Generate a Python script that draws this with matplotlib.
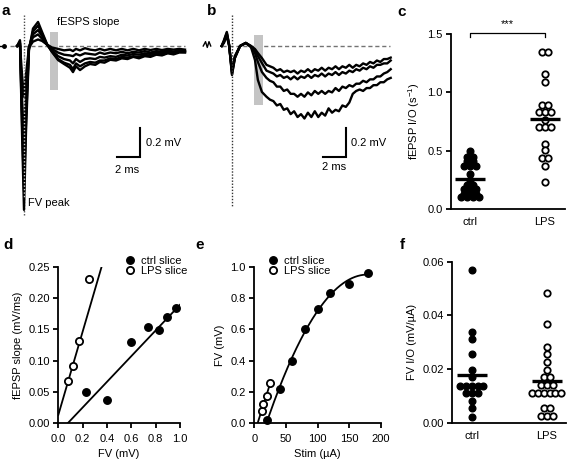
import numpy as np
import matplotlib
matplotlib.use("Agg")
import matplotlib.pyplot as plt
from matplotlib.patches import Rectangle

plt.rcParams['font.family'] = ['Liberation Sans', 'DejaVu Sans']
plt.rcParams['font.size'] = 8
plt.rcParams['mathtext.default'] = 'regular'

# ---------------- data ----------------
# panel a: example traces (ms, mV)
a_t = [-0.6, -0.35, -0.17, 0.0, 0.17, 0.43, 0.78, 1.22, 1.57, 2.0, 2.43, 2.96, 3.48, 4.0, 4.26, 4.52,
       4.87, 5.3, 5.74, 6.2, 6.6, 7.0, 7.5, 8.0, 8.5, 9.0, 9.5, 10.0, 10.5, 11.0, 11.5, 12.0, 12.5,
       13.0, 13.5, 14.0]
a_v1 = [0, 0.04, -0.60, -1.13, -0.60, -0.03, 0.12, 0.166, 0.097, 0.014, -0.04, -0.097, -0.124, -0.15,
        -0.18, -0.14, -0.166, -0.14, -0.124, -0.13, -0.11, -0.115, -0.095, -0.10, -0.085, -0.09, -0.075,
        -0.085, -0.07, -0.075, -0.06, -0.065, -0.05, -0.058, -0.045, -0.045]
a_v2 = [0, 0.03, -0.53, -1.0, -0.53, -0.02, 0.10, 0.14, 0.085, 0.01, -0.04, -0.09, -0.115, -0.13, -0.16,
        -0.12, -0.14, -0.12, -0.11, -0.115, -0.10, -0.10, -0.085, -0.09, -0.075, -0.08, -0.07, -0.075,
        -0.06, -0.068, -0.055, -0.06, -0.048, -0.052, -0.04, -0.042]
a_v3 = [0, 0.02, -0.45, -0.85, -0.45, -0.01, 0.08, 0.11, 0.07, 0.01, -0.03, -0.07, -0.09, -0.10, -0.12,
        -0.09, -0.11, -0.09, -0.085, -0.09, -0.075, -0.08, -0.07, -0.075, -0.06, -0.065, -0.055, -0.06,
        -0.05, -0.055, -0.045, -0.05, -0.04, -0.045, -0.035, -0.038]
a_v4 = [0, 0.02, -0.36, -0.65, -0.36, -0.01, 0.06, 0.08, 0.05, 0.01, -0.02, -0.045, -0.06, -0.065, -0.07,
        -0.055, -0.065, -0.05, -0.055, -0.06, -0.045, -0.055, -0.045, -0.05, -0.04, -0.05, -0.04, -0.045,
        -0.035, -0.045, -0.035, -0.04, -0.03, -0.038, -0.03, -0.035]
a_v5 = [0, 0.01, -0.20, -0.35, -0.20, -0.01, 0.03, 0.045, 0.035, 0.01, -0.01, -0.02, -0.03, -0.025, -0.035,
        -0.02, -0.03, -0.015, -0.025, -0.03, -0.02, -0.03, -0.02, -0.03, -0.02, -0.03, -0.02, -0.03, -0.02,
        -0.028, -0.02, -0.028, -0.02, -0.025, -0.02, -0.025]

# panel b: example traces (ms, mV)
b_t = [-0.9, -0.7, -0.45, -0.25, 0.0, 0.25, 0.7, 1.2, 1.65, 2.0, 2.25, 2.6,
       3.0, 3.3, 3.6, 3.9, 4.2, 4.5, 4.8, 5.1, 5.4, 5.7, 6.0, 6.3, 6.6, 6.9, 7.2, 7.5, 7.8, 8.1, 8.4,
       8.7, 9.0, 9.3, 9.6, 9.9, 10.2, 10.5, 10.8, 11.1, 11.4, 11.7, 12.0, 12.3, 12.6, 12.9, 13.2, 13.5, 13.8]
b_v1 = [0, 0.04, 0.097, 0.007, -0.2, -0.083, 0.0, 0.021, -0.007, -0.097, -0.234, -0.317,
        -0.35, -0.37, -0.38, -0.41, -0.40, -0.44, -0.43, -0.47, -0.45, -0.49, -0.47, -0.50, -0.46, -0.49,
        -0.45, -0.49, -0.46, -0.48, -0.43, -0.46, -0.44, -0.45, -0.41, -0.42, -0.39, -0.33, -0.31, -0.30,
        -0.31, -0.29, -0.29, -0.27, -0.27, -0.25, -0.25, -0.23, -0.22]
b_v2 = [0, 0.034, 0.09, 0.007, -0.193, -0.083, 0, 0.021, -0.007, -0.048, -0.11, -0.179,
        -0.22, -0.24, -0.25, -0.28, -0.28, -0.31, -0.30, -0.33, -0.33, -0.35, -0.33, -0.35, -0.32, -0.34,
        -0.31, -0.33, -0.31, -0.33, -0.31, -0.32, -0.29, -0.31, -0.28, -0.29, -0.27, -0.28, -0.26, -0.26,
        -0.24, -0.25, -0.23, -0.23, -0.21, -0.21, -0.19, -0.18, -0.16]
b_v3 = [0, 0.028, 0.083, 0.007, -0.179, -0.076, 0, 0.021, 0, -0.028, -0.069, -0.117,
        -0.17, -0.18, -0.19, -0.21, -0.20, -0.22, -0.21, -0.23, -0.21, -0.23, -0.21, -0.22, -0.20, -0.22,
        -0.20, -0.21, -0.19, -0.21, -0.19, -0.20, -0.18, -0.20, -0.18, -0.19, -0.17, -0.18, -0.16, -0.17,
        -0.15, -0.16, -0.14, -0.15, -0.13, -0.13, -0.12, -0.12, -0.10]
b_v4 = [0, 0.021, 0.069, 0, -0.166, -0.069, 0, 0.021, 0, -0.021, -0.048, -0.083,
        -0.13, -0.14, -0.15, -0.17, -0.16, -0.18, -0.17, -0.18, -0.17, -0.19, -0.17, -0.18, -0.16, -0.18,
        -0.16, -0.17, -0.15, -0.17, -0.15, -0.16, -0.14, -0.16, -0.14, -0.15, -0.13, -0.15, -0.13, -0.14,
        -0.12, -0.13, -0.11, -0.12, -0.10, -0.11, -0.09, -0.09, -0.08]

# panel c: fEPSP I/O (s^-1)
c_ctrl = [0.50, 0.45, 0.45, 0.41, 0.41, 0.37, 0.37, 0.37, 0.30, 0.25, 0.21, 0.21,
          0.17, 0.17, 0.17, 0.13, 0.13, 0.13, 0.10, 0.10, 0.10, 0.10]
c_lps = [1.35, 1.35, 1.16, 1.09, 0.89, 0.89, 0.83, 0.83, 0.83, 0.765, 0.70, 0.70, 0.70,
         0.56, 0.51, 0.44, 0.44, 0.37, 0.23]
cat_labels = ['ctrl', 'LPS']

# panel d: fEPSP slope vs FV
d_ctrl_fv = [0.227, 0.403, 0.597, 0.734, 0.827, 0.890, 0.967]
d_ctrl_slope = [0.0505, 0.0372, 0.130, 0.153, 0.149, 0.169, 0.1835]
d_lps_fv = [0.082, 0.123, 0.173, 0.255]
d_lps_slope = [0.068, 0.0915, 0.131, 0.231]
d_ctrl_fit = (0.205, -0.0158)   # slope, intercept
d_lps_fit = (0.665, 0.0133)

# panel e: FV vs stimulus
e_ctrl_stim = [20, 40, 60, 80, 100, 120, 150, 180]
e_ctrl_fv = [0.02, 0.22, 0.40, 0.60, 0.73, 0.83, 0.89, 0.96]
e_lps_stim = [11.6, 14.2, 19.5, 24.8]
e_lps_fv = [0.081, 0.121, 0.174, 0.255]

# panel f: FV I/O (mV/uA)
f_ctrl = [0.0569, 0.0339, 0.0311, 0.0255, 0.0196, 0.0169, 0.0138, 0.0138, 0.0138, 0.0138, 0.0138,
          0.0112, 0.0112, 0.0112, 0.0081, 0.0054, 0.0022]
f_lps = [0.0484, 0.0368, 0.0283, 0.0255, 0.0227, 0.0196, 0.0169, 0.0169, 0.0140, 0.0140, 0.0140,
         0.0109, 0.0109, 0.0109, 0.0109, 0.0109, 0.0109, 0.0054, 0.0054, 0.0025, 0.0025, 0.0025]

# ---------------- figure ----------------
W, H = 568, 470
fig = plt.figure(figsize=(W / 100, H / 100), dpi=100)


def px_axes(x0, y0, x1, y1):
    return fig.add_axes([x0 / W, 1 - y1 / H, (x1 - x0) / W, (y1 - y0) / H])


SP_LW = 1.3


def style_axes(ax, xticks=True):
    for s in ['top', 'right']:
        ax.spines[s].set_visible(False)
    for s in ['left', 'bottom']:
        ax.spines[s].set_linewidth(SP_LW)
    ax.tick_params(axis='y', direction='out', length=3.5, width=SP_LW, pad=2.5, labelsize=8)
    if xticks:
        ax.tick_params(axis='x', direction='out', length=3.5, width=SP_LW, pad=4, labelsize=8)
    else:
        ax.tick_params(axis='x', length=0, pad=6, labelsize=8)


trace_kw = dict(color='black', lw=1.7, solid_joinstyle='round', zorder=2)
gray_dash = dict(color='0.45', lw=1.0, ls=(0, (3, 2)), zorder=1)

# ---- panel a ----
axa = px_axes(0, 10, 190, 225)
axa.set_xlim(-2.087, 14.435)
axa.set_ylim(-1.2345, 0.2483)
axa.axis('off')
axa.add_patch(Rectangle((2.26, -0.30), 0.70, 0.397, facecolor='#c4c4c4', edgecolor='none', zorder=1.5))
axa.plot([-1.22, 14.0], [0, 0], **gray_dash)
for v in [a_v5, a_v4, a_v3, a_v2, a_v1]:
    axa.plot(a_t, v, **trace_kw)
axa.plot([0, 0], [0.214, -1.166], color='0.3', lw=1.0, ls=(0, (1, 1.2)), zorder=1)
axa.plot([0, 0], [-0.05, -1.05], color='0.8', lw=1.0, ls=(0, (1, 1.5)), zorder=3)
axa.plot([-2.05, -1.7], [0, 0], color='black', lw=1.0)
axa.plot([-1.75], [0], 'o', color='black', ms=2.5)
axa.plot([10.09, 10.09, 8.09], [-0.566, -0.766, -0.766], color='black', lw=1.5, solid_joinstyle='miter')
axa.text(10.6, -0.666, '0.2 mV', ha='left', va='center', fontsize=8)
axa.text(9.0, -0.855, '2 ms', ha='center', va='center', fontsize=8)
axa.text(2.87, 0.166, 'fESPS slope', ha='left', va='center', fontsize=8)
axa.text(0.35, -1.083, 'FV peak', ha='left', va='center', fontsize=8)

# ---- panel b ----
axb = px_axes(195, 10, 395, 225)
axb.set_xlim(-3.217, 14.174)
axb.set_ylim(-1.2345, 0.2483)
axb.axis('off')
axb.add_patch(Rectangle((1.91, -0.407), 0.79, 0.483, facecolor='#c4c4c4', edgecolor='none', zorder=1.5))
axb.plot([-0.87, 13.74], [0, 0], **gray_dash)
for v in [b_v4, b_v3, b_v2, b_v1]:
    axb.plot(b_t, v, **trace_kw)
axb.plot([0, 0], [0.214, -1.11], color='0.2', lw=1.0, ls=(0, (1, 1.2)), zorder=3)
axb.plot([-2.5, -2.3, -2.15, -2.0, -1.85], [0.0, 0.03, -0.01, 0.03, 0.0], color='black', lw=1.0)
axb.plot([9.91, 9.91, 7.91], [-0.566, -0.766, -0.766], color='black', lw=1.5, solid_joinstyle='miter')
axb.text(10.35, -0.666, '0.2 mV', ha='left', va='center', fontsize=8)
axb.text(8.9, -0.834, '2 ms', ha='center', va='center', fontsize=8)


def swarm(vals, center, step):
    vals = np.asarray(vals, dtype=float)
    xs = np.empty(len(vals))
    for u in np.unique(vals):
        idx = np.where(vals == u)[0]
        n = len(idx)
        xs[idx] = center + (np.arange(n) - (n - 1) / 2) * step
    return xs


def dot_panel(ax, ctrl, lps, step):
    ax.plot(swarm(ctrl, 0, step), ctrl, 'o', ms=4.8, mfc='black', mec='black', mew=1.0,
            clip_on=False, zorder=3)
    ax.plot(swarm(lps, 1, step), lps, 'o', ms=4.6, mfc='white', mec='black', mew=1.3,
            clip_on=False, zorder=3)
    for i, d in enumerate([ctrl, lps]):
        ax.hlines(np.mean(d), i - 0.2, i + 0.2, color='black', lw=2.4, zorder=4)
    ax.set_xticks([0, 1])
    ax.set_xticklabels(cat_labels)


# ---- panel c ----
axc = px_axes(451, 34, 565, 209)
axc.set_xlim(-0.253, 1.267)
axc.set_ylim(0, 1.5)
style_axes(axc, xticks=False)
dot_panel(axc, c_ctrl, c_lps, 0.08)
axc.set_yticks([0, 0.5, 1.0, 1.5])
axc.set_yticklabels(['0.0', '0.5', '1.0', '1.5'])
axc.set_ylabel('fEPSP I/O (s$^{-1}$)', fontsize=8, labelpad=4)
axc.plot([0, 0, 1, 1], [1.474, 1.509, 1.509, 1.474], color='black', lw=0.9, clip_on=False)
axc.text(0.5, 1.54, '***', ha='center', va='bottom', fontsize=8)

# ---- panel d ----
axd = px_axes(58.3, 266.7, 180, 423.3)
axd.set_xlim(0, 1.0)
axd.set_ylim(0, 0.25)
style_axes(axd)
xd = np.array([-d_ctrl_fit[1] / d_ctrl_fit[0], 1.0])
axd.plot(xd, d_ctrl_fit[0] * xd + d_ctrl_fit[1], color='black', lw=1.3, zorder=2)
xl = np.array([0.0, (0.25 - d_lps_fit[1]) / d_lps_fit[0]])
axd.plot(xl, d_lps_fit[0] * xl + d_lps_fit[1], color='black', lw=1.3, zorder=2)
axd.plot(d_ctrl_fv, d_ctrl_slope, 'o', ms=5.4, mfc='black', mec='black', label='ctrl slice',
         clip_on=False, zorder=3)
axd.plot(d_lps_fv, d_lps_slope, 'o', ms=5.2, mfc='white', mec='black', mew=1.3, label='LPS slice',
         clip_on=False, zorder=3)
axd.set_xticks([0, 0.2, 0.4, 0.6, 0.8, 1.0])
axd.set_xticklabels(['0.0', '0.2', '0.4', '0.6', '0.8', '1.0'])
axd.set_yticks([0, 0.05, 0.10, 0.15, 0.20, 0.25])
axd.set_yticklabels(['0.00', '0.05', '0.10', '0.15', '0.20', '0.25'])
axd.set_xlabel('FV (mV)', fontsize=8, labelpad=4)
axd.set_ylabel('fEPSP slope (mV/ms)', fontsize=8, labelpad=4)
axd.legend(loc='upper left', bbox_to_anchor=(0.544, 1.07), frameon=False, borderpad=0,
           handlelength=1.0, handletextpad=0.5, labelspacing=0.05, borderaxespad=0, fontsize=8)

# ---- panel e ----
axe = px_axes(254.3, 266.7, 380.7, 423.3)
axe.set_xlim(0, 200)
axe.set_ylim(0, 1.0)
style_axes(axe)
pc = np.polyfit(e_ctrl_stim, e_ctrl_fv, 3)
xs = np.linspace(8, max(e_ctrl_stim), 200)
axe.plot(xs, np.polyval(pc, xs), color='black', lw=1.3, zorder=2)
pl = np.polyfit(e_lps_stim, e_lps_fv, 1)
xs2 = np.linspace(-pl[1] / pl[0], max(e_lps_stim), 20)
axe.plot(xs2, np.polyval(pl, xs2), color='black', lw=1.3, zorder=2)
axe.plot(e_ctrl_stim, e_ctrl_fv, 'o', ms=5.4, mfc='black', mec='black', label='ctrl slice',
         clip_on=False, zorder=3)
axe.plot(e_lps_stim, e_lps_fv, 'o', ms=5.2, mfc='white', mec='black', mew=1.3, label='LPS slice',
         clip_on=False, zorder=3)
axe.set_xticks([0, 50, 100, 150, 200])
axe.set_yticks([0, 0.2, 0.4, 0.6, 0.8, 1.0])
axe.set_yticklabels(['0.0', '0.2', '0.4', '0.6', '0.8', '1.0'])
axe.set_xlabel('Stim (µA)', fontsize=8, labelpad=4)
axe.set_ylabel('FV (mV)', fontsize=8, labelpad=4)
axe.legend(loc='upper left', bbox_to_anchor=(0.102, 1.07), frameon=False, borderpad=0,
           handlelength=1.0, handletextpad=0.5, labelspacing=0.05, borderaxespad=0, fontsize=8)

# ---- panel f ----
axf = px_axes(452, 261.7, 566, 422.7)
axf.set_xlim(-0.263, 1.257)
axf.set_ylim(0, 0.06)
style_axes(axf, xticks=False)
dot_panel(axf, f_ctrl, f_lps, 0.077)
axf.set_yticks([0, 0.02, 0.04, 0.06])
axf.set_yticklabels(['0.00', '0.02', '0.04', '0.06'])
axf.set_ylabel('FV I/O (mV/µA)', fontsize=8, labelpad=4)

# panel letters
for lab, x, y in [('a', 2, 15), ('b', 207, 15), ('c', 397, 16),
                  ('d', 3, 249), ('e', 195, 249), ('f', 400, 249)]:
    fig.text(x / W, 1 - y / H, lab, fontsize=11, fontweight='bold', ha='left', va='baseline')

fig.savefig('out.png', dpi=100)
